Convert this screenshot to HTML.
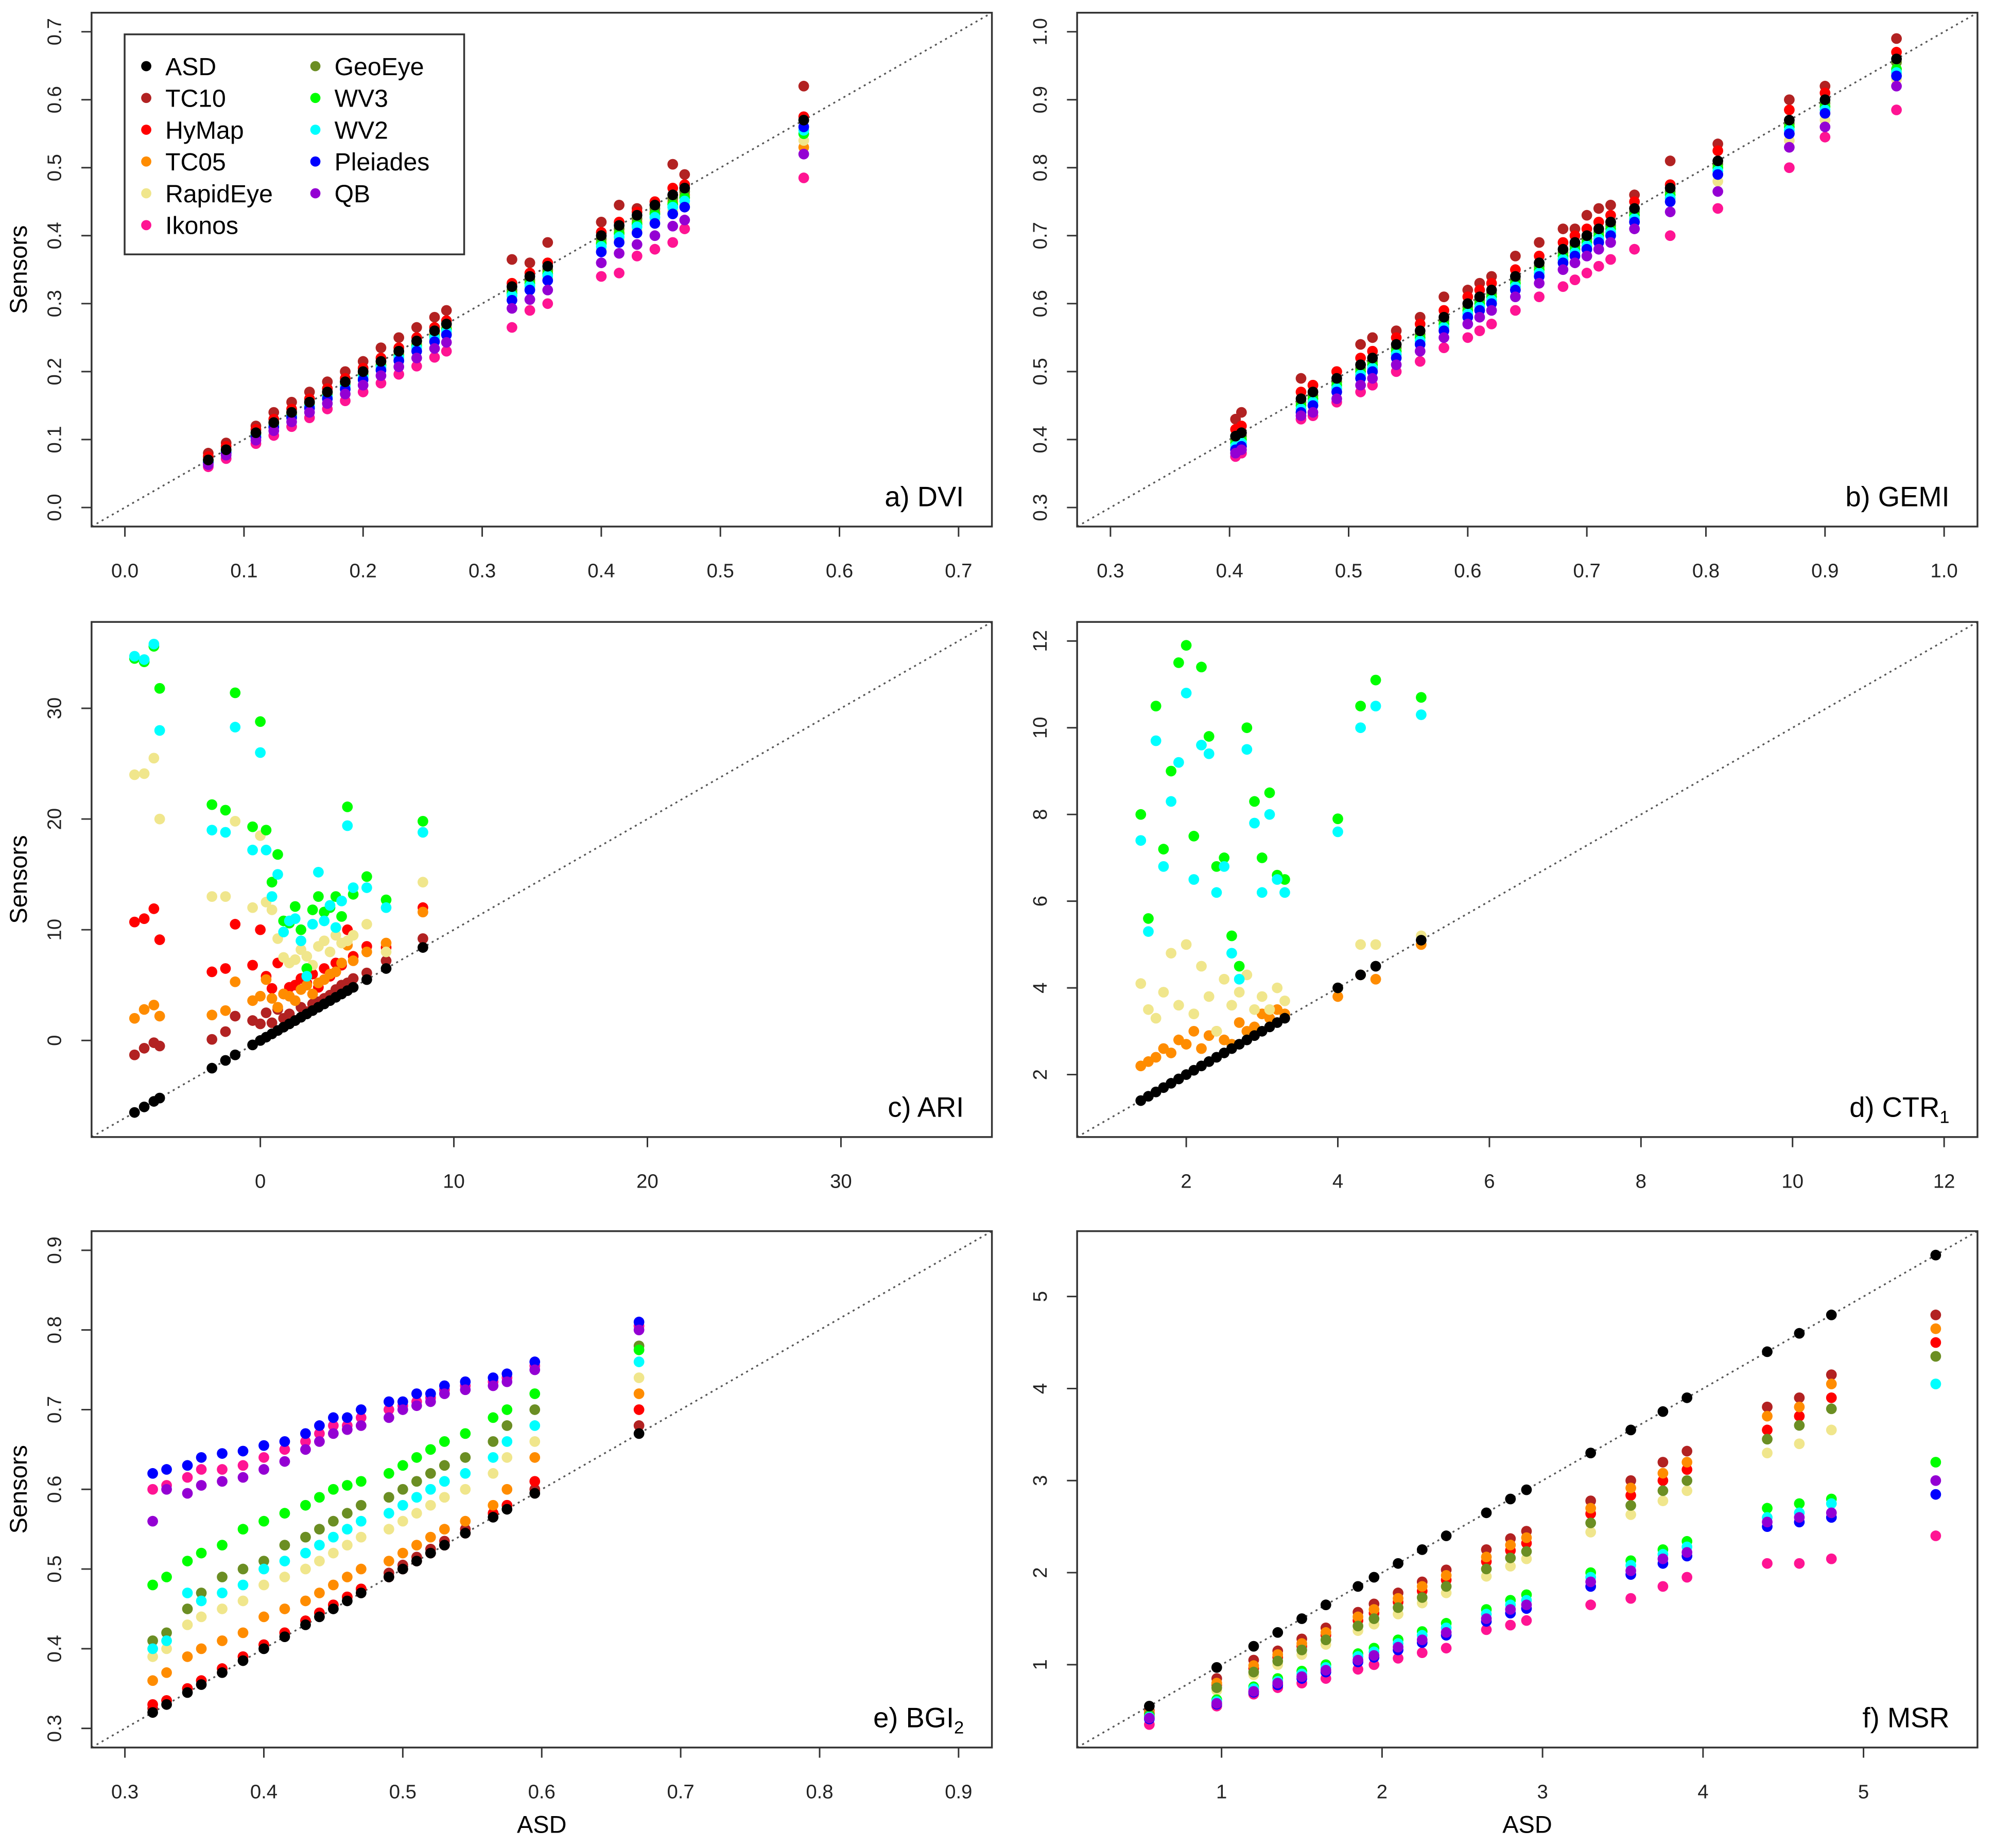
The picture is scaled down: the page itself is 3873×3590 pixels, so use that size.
<!DOCTYPE html>
<html><head><meta charset="utf-8"><title>Sensor vs ASD vegetation indices</title>
<style>
html,body{margin:0;padding:0;background:#fff;}
svg{display:block;font-family:"Liberation Sans",Arial,sans-serif;}
</style></head>
<body>
<svg id="fig" xmlns="http://www.w3.org/2000/svg" width="3873" height="3590" viewBox="0 0 1568 1453" preserveAspectRatio="none">
<rect x="0" y="0" width="1568" height="1453" fill="#fff"/>
<g id="layer"></g>
</svg>
<script>
// ---- series / legend ----
const sensorNames = ["TC10","HyMap","TC05","RapidEye","Ikonos","GeoEye","WV3","WV2","Pleiades","QB"];
const sensorColors = ["#b22222","#ff0000","#ff8c00","#f0e68c","#ff1493","#6b8e23","#00ff00","#00ffff","#0000ff","#9400d3"];
const legendNames = ["ASD","TC10","HyMap","TC05","RapidEye","Ikonos","GeoEye","WV3","WV2","Pleiades","QB"];
const legendColors = ["#000000","#b22222","#ff0000","#ff8c00","#f0e68c","#ff1493","#6b8e23","#00ff00","#00ffff","#0000ff","#9400d3"];

// ---- a) DVI ----
const dviASD = [0.07,0.085,0.11,0.125,0.14,0.155,0.17,0.185,0.2,0.215,0.23,0.245,0.26,0.27,0.325,0.34,0.355,0.40,0.415,0.43,0.445,0.46,0.47,0.57];
const dviTC10 = [0.08,0.095,0.12,0.14,0.155,0.17,0.185,0.2,0.215,0.235,0.25,0.265,0.28,0.29,0.365,0.36,0.39,0.42,0.445,0.44,0.445,0.505,0.49,0.62];
const dviHyMap = [0.075,0.09,0.115,0.13,0.145,0.16,0.175,0.19,0.205,0.22,0.235,0.25,0.265,0.275,0.33,0.345,0.36,0.405,0.42,0.435,0.45,0.47,0.475,0.575];
const dviTC05 = [0.068,0.083,0.107,0.122,0.137,0.152,0.166,0.181,0.196,0.21,0.225,0.24,0.255,0.264,0.318,0.333,0.348,0.39,0.405,0.42,0.435,0.45,0.46,0.53];
const dviRapidEye = [0.066,0.08,0.104,0.119,0.133,0.147,0.161,0.176,0.19,0.204,0.218,0.233,0.247,0.256,0.31,0.323,0.337,0.38,0.394,0.408,0.423,0.437,0.446,0.54];
const dviIkonos = [0.06,0.072,0.094,0.106,0.119,0.132,0.145,0.157,0.17,0.183,0.196,0.208,0.221,0.23,0.265,0.29,0.3,0.34,0.345,0.37,0.38,0.39,0.41,0.485];
const dviGeoEye = [0.07,0.085,0.11,0.125,0.14,0.155,0.17,0.185,0.2,0.215,0.23,0.245,0.26,0.27,0.32,0.335,0.35,0.395,0.41,0.425,0.44,0.455,0.465,0.57];
const dviWV3 = [0.068,0.082,0.107,0.121,0.136,0.15,0.165,0.18,0.194,0.209,0.223,0.238,0.252,0.262,0.315,0.33,0.344,0.388,0.403,0.417,0.432,0.446,0.456,0.55];
const dviWV2 = [0.067,0.082,0.106,0.12,0.134,0.149,0.163,0.178,0.192,0.206,0.221,0.235,0.25,0.259,0.312,0.326,0.341,0.384,0.398,0.413,0.427,0.442,0.451,0.555];
const dviPleiades = [0.066,0.08,0.103,0.118,0.132,0.146,0.16,0.174,0.188,0.202,0.216,0.23,0.244,0.254,0.305,0.32,0.334,0.376,0.39,0.404,0.418,0.432,0.442,0.56];
const dviQB = [0.063,0.077,0.099,0.113,0.126,0.14,0.153,0.167,0.18,0.194,0.207,0.22,0.234,0.243,0.293,0.306,0.32,0.36,0.374,0.387,0.4,0.414,0.423,0.52];
const dviTicks = [0,0.1,0.2,0.3,0.4,0.5,0.6,0.7];
const dviTickLabels = ["0.0","0.1","0.2","0.3","0.4","0.5","0.6","0.7"];

// ---- b) GEMI ----
const gemiASD = [0.405,0.41,0.46,0.47,0.49,0.51,0.52,0.54,0.56,0.58,0.6,0.61,0.62,0.64,0.66,0.68,0.69,0.7,0.71,0.72,0.74,0.77,0.81,0.87,0.9,0.96];
const gemiTC10 = [0.43,0.44,0.49,0.48,0.50,0.54,0.55,0.56,0.58,0.61,0.62,0.63,0.64,0.67,0.69,0.71,0.71,0.73,0.74,0.745,0.76,0.81,0.835,0.90,0.92,0.99];
const gemiHyMap = [0.415,0.42,0.47,0.48,0.50,0.52,0.53,0.55,0.57,0.59,0.61,0.62,0.63,0.65,0.67,0.69,0.70,0.71,0.72,0.73,0.75,0.775,0.825,0.885,0.91,0.97];
const gemiTC05 = [0.39,0.395,0.445,0.455,0.475,0.495,0.505,0.525,0.545,0.565,0.585,0.595,0.605,0.625,0.645,0.665,0.675,0.685,0.695,0.705,0.725,0.755,0.79,0.85,0.88,0.94];
const gemiRapidEye = [0.385,0.39,0.44,0.45,0.47,0.49,0.50,0.52,0.54,0.56,0.58,0.59,0.60,0.62,0.64,0.66,0.67,0.68,0.69,0.70,0.72,0.75,0.78,0.84,0.87,0.93];
const gemiIkonos = [0.375,0.38,0.43,0.435,0.455,0.47,0.48,0.50,0.515,0.535,0.55,0.56,0.57,0.59,0.61,0.625,0.635,0.645,0.655,0.665,0.68,0.70,0.74,0.80,0.845,0.885];
const gemiGeoEye = [0.40,0.405,0.455,0.465,0.485,0.505,0.515,0.535,0.555,0.575,0.595,0.605,0.615,0.635,0.655,0.675,0.685,0.695,0.705,0.715,0.735,0.765,0.805,0.865,0.895,0.955];
const gemiWV3 = [0.395,0.40,0.45,0.46,0.48,0.50,0.51,0.53,0.55,0.57,0.59,0.60,0.61,0.63,0.65,0.67,0.68,0.69,0.70,0.71,0.73,0.76,0.80,0.86,0.89,0.945];
const gemiWV2 = [0.39,0.395,0.445,0.455,0.475,0.495,0.505,0.525,0.545,0.565,0.585,0.595,0.605,0.625,0.645,0.665,0.675,0.685,0.695,0.705,0.725,0.755,0.795,0.855,0.885,0.94];
const gemiPleiades = [0.385,0.39,0.44,0.45,0.47,0.49,0.50,0.52,0.54,0.56,0.58,0.59,0.60,0.62,0.64,0.66,0.67,0.68,0.69,0.70,0.72,0.75,0.79,0.85,0.88,0.935];
const gemiQB = [0.38,0.385,0.435,0.44,0.46,0.48,0.49,0.51,0.53,0.55,0.57,0.58,0.59,0.61,0.63,0.65,0.66,0.67,0.68,0.69,0.71,0.735,0.765,0.83,0.86,0.92];
const gemiTicks = [0.3,0.4,0.5,0.6,0.7,0.8,0.9,1.0];
const gemiTickLabels = ["0.3","0.4","0.5","0.6","0.7","0.8","0.9","1.0"];

// ---- c) ARI ----
const ariASD = [-6.5,-6,-5.5,-5.2,-2.5,-1.8,-1.3,-0.4,0,0.3,0.6,0.9,1.2,1.5,1.8,2.1,2.4,2.7,3,3.3,3.6,3.9,4.2,4.5,4.8,5.5,6.5,8.4];
const ariTC10 = [-1.3,-0.7,-0.2,-0.5,0.1,0.8,2.2,1.8,1.5,2.5,1.6,2.8,2.0,2.4,1.8,3.0,2.6,3.3,3.5,3.8,4.1,4.6,5.0,5.2,5.6,6.1,7.2,9.2];
const ariHyMap = [10.7,11.0,11.9,9.1,6.2,6.5,10.5,6.8,10.0,5.8,4.7,7.0,4.2,4.8,5.0,5.6,5.2,6.0,4.8,6.5,5.8,7.0,6.8,10.0,7.6,8.5,8.4,12.0];
const ariTC05 = [2.0,2.8,3.2,2.2,2.3,2.7,5.3,3.6,4.0,5.5,3.8,3.0,4.2,4.0,3.6,4.6,5.0,4.2,5.2,5.5,6.0,6.2,7.0,8.6,7.2,8.0,8.8,11.6];
const ariRapidEye = [24.0,24.1,25.5,20.0,13.0,13.0,19.8,12.0,18.5,12.5,11.8,9.2,7.5,7.0,7.3,8.2,7.6,6.8,8.5,9.0,8.0,9.5,8.8,9.0,9.5,10.5,8.0,14.3];
const ariWV3 = [34.5,34.2,35.6,31.8,21.3,20.8,31.4,19.3,28.8,19.0,14.3,16.8,10.8,10.6,12.1,10.0,6.5,11.8,13.0,11.6,12.0,13.0,11.2,21.1,13.2,14.8,12.7,19.8];
const ariWV2 = [34.7,34.4,35.8,28.0,19.0,18.8,28.3,17.2,26.0,17.2,13.0,15.0,9.8,10.8,11.0,9.0,5.8,10.5,15.2,10.8,12.2,10.2,12.6,19.4,13.8,13.8,12.0,18.8];
const ariTicks = [0,10,20,30];
const ariTickLabels = ["0","10","20","30"];

// ---- d) CTR1 ----
const ctrASD = [1.4,1.5,1.6,1.7,1.8,1.9,2.0,2.1,2.2,2.3,2.4,2.5,2.6,2.7,2.8,2.9,3.0,3.1,3.2,3.3,4.0,4.3,4.5,5.1];
const ctrTC05 = [2.2,2.3,2.4,2.6,2.5,2.8,2.7,3.0,2.6,2.9,3.0,2.8,2.7,3.2,3.0,3.1,3.4,3.3,3.5,3.4,3.8,4.3,4.2,5.0];
const ctrRapidEye = [4.1,3.5,3.3,3.9,4.8,3.6,5.0,3.4,4.5,3.8,3.0,4.2,3.6,3.9,4.3,3.5,3.8,3.5,4.0,3.7,4.0,5.0,5.0,5.2];
const ctrWV3 = [8.0,5.6,10.5,7.2,9.0,11.5,11.9,7.5,11.4,9.8,6.8,7.0,5.2,4.5,10.0,8.3,7.0,8.5,6.6,6.5,7.9,10.5,11.1,10.7];
const ctrWV2 = [7.4,5.3,9.7,6.8,8.3,9.2,10.8,6.5,9.6,9.4,6.2,6.8,4.8,4.2,9.5,7.8,6.2,8.0,6.5,6.2,7.6,10.0,10.5,10.3];
const ctrTicks = [2,4,6,8,10,12];
const ctrTickLabels = ["2","4","6","8","10","12"];

// ---- e) BGI2 ----
const bgiASD = [0.32,0.33,0.345,0.355,0.37,0.385,0.4,0.415,0.43,0.44,0.45,0.46,0.47,0.49,0.5,0.51,0.52,0.53,0.545,0.565,0.575,0.595,0.67];
const bgiTC10 = [0.325,0.335,0.35,0.36,0.375,0.39,0.405,0.42,0.435,0.445,0.455,0.465,0.475,0.495,0.505,0.515,0.525,0.535,0.55,0.57,0.58,0.6,0.68];
const bgiHyMap = [0.33,0.335,0.35,0.36,0.375,0.39,0.405,0.42,0.435,0.445,0.455,0.465,0.475,0.49,0.5,0.51,0.52,0.53,0.545,0.57,0.58,0.61,0.70];
const bgiTC05 = [0.36,0.37,0.39,0.40,0.41,0.42,0.44,0.45,0.46,0.47,0.48,0.49,0.5,0.51,0.52,0.53,0.54,0.55,0.56,0.58,0.6,0.64,0.72];
const bgiRapidEye = [0.39,0.40,0.43,0.44,0.45,0.46,0.48,0.49,0.5,0.51,0.52,0.53,0.54,0.55,0.56,0.57,0.58,0.59,0.6,0.62,0.64,0.66,0.74];
const bgiIkonos = [0.6,0.605,0.615,0.625,0.625,0.63,0.64,0.65,0.66,0.67,0.68,0.68,0.69,0.70,0.705,0.71,0.715,0.725,0.73,0.735,0.74,0.755,0.805];
const bgiGeoEye = [0.41,0.42,0.45,0.47,0.49,0.5,0.51,0.53,0.54,0.55,0.56,0.57,0.58,0.59,0.60,0.61,0.62,0.63,0.64,0.66,0.68,0.70,0.78];
const bgiWV3 = [0.48,0.49,0.51,0.52,0.53,0.55,0.56,0.57,0.58,0.59,0.6,0.605,0.61,0.62,0.63,0.64,0.65,0.66,0.67,0.69,0.70,0.72,0.775];
const bgiWV2 = [0.40,0.41,0.47,0.46,0.47,0.48,0.5,0.51,0.52,0.53,0.54,0.55,0.56,0.57,0.58,0.59,0.6,0.61,0.62,0.64,0.66,0.68,0.76];
const bgiPleiades = [0.62,0.625,0.63,0.64,0.645,0.648,0.655,0.66,0.67,0.68,0.69,0.69,0.70,0.71,0.71,0.72,0.72,0.73,0.735,0.74,0.745,0.76,0.81];
const bgiQB = [0.56,0.6,0.595,0.605,0.61,0.615,0.625,0.635,0.65,0.66,0.67,0.675,0.68,0.69,0.70,0.705,0.71,0.72,0.725,0.73,0.735,0.75,0.80];
const bgiTicks = [0.3,0.4,0.5,0.6,0.7,0.8,0.9];
const bgiTickLabels = ["0.3","0.4","0.5","0.6","0.7","0.8","0.9"];

// ---- f) MSR ----
const msrASD = [0.55,0.97,1.2,1.35,1.5,1.65,1.85,1.95,2.1,2.25,2.4,2.65,2.8,2.9,3.3,3.55,3.75,3.9,4.4,4.6,4.8,5.45];
const msrTC10 = [0.5,0.85,1.05,1.15,1.28,1.4,1.57,1.66,1.78,1.9,2.03,2.25,2.37,2.45,2.78,3.0,3.2,3.32,3.8,3.9,4.15,4.8];
const msrHyMap = [0.47,0.78,0.96,1.08,1.2,1.32,1.48,1.56,1.68,1.8,1.92,2.12,2.24,2.32,2.64,2.84,3.0,3.12,3.55,3.7,3.9,4.5];
const msrTC05 = [0.48,0.8,0.99,1.11,1.23,1.35,1.52,1.6,1.72,1.85,1.97,2.17,2.3,2.38,2.7,2.92,3.08,3.2,3.7,3.8,4.05,4.65];
const msrRapidEye = [0.45,0.72,0.89,1.0,1.11,1.22,1.37,1.44,1.55,1.67,1.78,1.96,2.07,2.15,2.44,2.63,2.78,2.89,3.3,3.4,3.55,4.05];
const msrIkonos = [0.35,0.55,0.68,0.75,0.8,0.85,0.95,1.0,1.07,1.13,1.18,1.38,1.43,1.48,1.65,1.72,1.85,1.95,2.1,2.1,2.15,2.4];
const msrGeoEye = [0.46,0.75,0.92,1.04,1.16,1.27,1.42,1.5,1.62,1.73,1.85,2.04,2.16,2.23,2.54,2.73,2.89,3.0,3.45,3.6,3.78,4.35];
const msrWV3 = [0.44,0.62,0.76,0.85,0.93,1.0,1.12,1.18,1.27,1.36,1.45,1.6,1.7,1.76,2.0,2.13,2.25,2.34,2.7,2.75,2.8,3.2];
const msrWV2 = [0.43,0.6,0.74,0.82,0.9,0.97,1.09,1.14,1.23,1.32,1.4,1.55,1.65,1.7,1.95,2.08,2.2,2.28,2.6,2.65,2.75,4.05];
const msrPleiades = [0.41,0.57,0.7,0.78,0.85,0.92,1.03,1.08,1.16,1.24,1.32,1.47,1.56,1.61,1.85,1.98,2.1,2.18,2.5,2.55,2.6,2.85];
const msrQB = [0.42,0.58,0.71,0.8,0.87,0.94,1.05,1.1,1.19,1.27,1.35,1.5,1.6,1.65,1.9,2.02,2.15,2.22,2.55,2.6,2.65,3.0];
const msrTicks = [1,2,3,4,5];
const msrTickLabels = ["1","2","3","4","5"];

// ---- drawing ----
const NS = "http://www.w3.org/2000/svg";
const layer = document.getElementById("layer");
const R = 4.2;
function mk(tag, attrs, parent) {
  const e = document.createElementNS(NS, tag);
  for (const k in attrs) e.setAttribute(k, attrs[k]);
  (parent || layer).appendChild(e);
  return e;
}

const panels = [
  {id:"dvi", label:"a) DVI", sub:"", box:[72,780,10,414], lim:[-0.028,0.728], ticks:dviTicks, labels:dviTickLabels, asd:dviASD,
   series:{TC10:dviTC10,HyMap:dviHyMap,TC05:dviTC05,RapidEye:dviRapidEye,Ikonos:dviIkonos,GeoEye:dviGeoEye,WV3:dviWV3,WV2:dviWV2,Pleiades:dviPleiades,QB:dviQB}, ylab:true, xlab:false, legend:true},
  {id:"gemi", label:"b) GEMI", sub:"", box:[847,1555,10,414], lim:[0.272,1.028], ticks:gemiTicks, labels:gemiTickLabels, asd:gemiASD,
   series:{TC10:gemiTC10,HyMap:gemiHyMap,TC05:gemiTC05,RapidEye:gemiRapidEye,Ikonos:gemiIkonos,GeoEye:gemiGeoEye,WV3:gemiWV3,WV2:gemiWV2,Pleiades:gemiPleiades,QB:gemiQB}, ylab:false, xlab:false},
  {id:"ari", label:"c) ARI", sub:"", box:[72,780,489,894], lim:[-8.72,37.8], ticks:ariTicks, labels:ariTickLabels, asd:ariASD,
   series:{TC10:ariTC10,HyMap:ariHyMap,TC05:ariTC05,RapidEye:ariRapidEye,WV3:ariWV3,WV2:ariWV2}, ylab:true, xlab:false},
  {id:"ctr", label:"d) CTR", sub:"1", box:[847,1555,489,894], lim:[0.56,12.44], ticks:ctrTicks, labels:ctrTickLabels, asd:ctrASD,
   series:{TC05:ctrTC05,RapidEye:ctrRapidEye,WV3:ctrWV3,WV2:ctrWV2}, ylab:false, xlab:false},
  {id:"bgi", label:"e) BGI", sub:"2", box:[72,780,968,1374], lim:[0.276,0.924], ticks:bgiTicks, labels:bgiTickLabels, asd:bgiASD,
   series:{TC10:bgiTC10,HyMap:bgiHyMap,TC05:bgiTC05,RapidEye:bgiRapidEye,Ikonos:bgiIkonos,GeoEye:bgiGeoEye,WV3:bgiWV3,WV2:bgiWV2,QB:bgiQB,Pleiades:bgiPleiades}, ylab:true, xlab:true},
  {id:"msr", label:"f) MSR", sub:"", box:[847,1555,968,1374], lim:[0.10,5.71], ticks:msrTicks, labels:msrTickLabels, asd:msrASD,
   series:{TC10:msrTC10,HyMap:msrHyMap,TC05:msrTC05,RapidEye:msrRapidEye,Ikonos:msrIkonos,GeoEye:msrGeoEye,WV3:msrWV3,WV2:msrWV2,Pleiades:msrPleiades,QB:msrQB}, ylab:false, xlab:true}
];

panels.forEach(p => {
  const [x0,x1,y0,y1] = p.box;
  const [lo,hi] = p.lim;
  const sx = v => x0 + (v - lo) / (hi - lo) * (x1 - x0);
  const sy = v => y1 - (v - lo) / (hi - lo) * (y1 - y0);
  const g = mk("g", {});
  
  

  const d = mk("line", {x1:sx(lo), y1:sy(lo), x2:sx(hi), y2:sy(hi), stroke:"#555", "stroke-width":1.3, "stroke-dasharray":"1.6 3"}, g);
  
  

  const pg = mk("g", {}, g);
  
  
  sensorNames.forEach((nm, si) => {
    const ys = p.series[nm];
    if (!ys) return;
    ys.forEach((yv, i) => {
      const c = mk("circle", {cx:sx(p.asd[i]), cy:sy(yv), r:R, fill:sensorColors[si]}, pg);
      
      
    });
  });
  p.asd.forEach(xv => {
    const c = mk("circle", {cx:sx(xv), cy:sy(xv), r:R, fill:"#000"}, pg);
    
    
  });

  const fr = mk("rect", {x:x0, y:y0, width:x1-x0, height:y1-y0, fill:"none", stroke:"#333", "stroke-width":1.4}, g);
  
  

  p.ticks.forEach((t, i) => {
    const X = sx(t), Y = sy(t);
    const xt = mk("line", {x1:X, y1:y1, x2:X, y2:y1+8, stroke:"#333", "stroke-width":1.2}, g);
    
    
    const xl = mk("text", {x:X, y:y1+40, "font-size":15.5, "text-anchor":"middle", fill:"#222"}, g);
    xl.textContent = p.labels[i];
    
    
    const yt = mk("line", {x1:x0, y1:Y, x2:x0-8, y2:Y, stroke:"#333", "stroke-width":1.2}, g);
    
    
    const yl = mk("text", {x:0, y:0, "font-size":15.5, "text-anchor":"middle", fill:"#222", transform:`translate(${x0-24},${Y}) rotate(-90)`}, g);
    yl.textContent = p.labels[i];
    
    
  });

  const pl = mk("text", {x:x1-22, y:y1-16, "font-size":22, "text-anchor":"end", fill:"#000"}, g);
  pl.textContent = p.label;
  if (p.sub) {
    const ts = mk("tspan", {"font-size":14, dy:5}, pl);
    ts.textContent = p.sub;
  }
  
  

  if (p.ylab) {
    const t = mk("text", {x:0, y:0, "font-size":19, "text-anchor":"middle", fill:"#000", transform:`translate(21,${(y0+y1)/2}) rotate(-90)`}, g);
    t.textContent = "Sensors";
    
    
  }
  if (p.xlab) {
    const t = mk("text", {x:(x0+x1)/2, y:1441, "font-size":19, "text-anchor":"middle", fill:"#000"}, g);
    t.textContent = "ASD";
    
    
  }

  if (p.legend) {
    const lg = mk("g", {}, g);
    
    
    const lr = mk("rect", {x:98, y:27, width:267, height:173, fill:"#fff", stroke:"#333", "stroke-width":1.4}, lg);
    
    
    legendNames.forEach((nm, i) => {
      const col = i < 6 ? 0 : 1;
      const row = i < 6 ? i : i - 6;
      const cx = col === 0 ? 115 : 248;
      const cy = 52 + row * 25;
      const e = mk("g", {}, lg);
      
      
      mk("circle", {cx:cx, cy:cy, r:4, fill:legendColors[i]}, e);
      const t = mk("text", {x:cx+15, y:cy+7, "font-size":19.5, fill:"#000"}, e);
      t.textContent = nm;
    });
  }
});
</script>
</body></html>
